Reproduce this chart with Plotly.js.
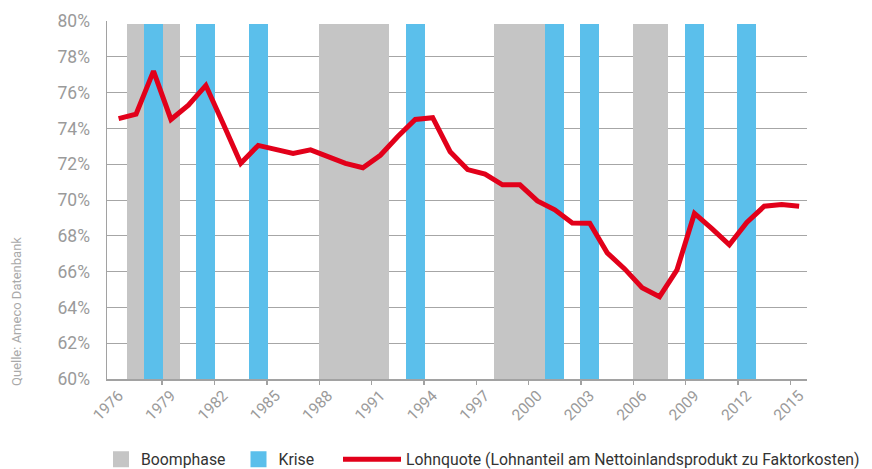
<!DOCTYPE html>
<html>
<head>
<meta charset="utf-8">
<script src="https://cdn.plot.ly/plotly-3.0.1.min.js"></script>
<style>html,body{margin:0;padding:0;background:#fff;}#chart{width:872px;height:469px;}</style>
</head>
<body>
<div id="chart"></div>
<script>
// ---- data ----
const years = [1976,1977,1978,1979,1980,1981,1982,1983,1984,1985,1986,1987,1988,1989,1990,1991,1992,1993,1994,1995,1996,1997,1998,1999,2000,2001,2002,2003,2004,2005,2006,2007,2008,2009,2010,2011,2012,2013,2014,2015];
const lohnquote = [74.55,74.8,77.2,74.5,75.3,76.4,74.25,72.05,73.05,72.8,72.6,72.8,72.45,72.05,71.8,72.5,73.55,74.5,74.6,72.7,71.7,71.45,70.85,70.85,69.95,69.45,68.72,68.7,67.05,66.15,65.1,64.6,66.1,69.25,68.4,67.5,68.75,69.65,69.75,69.65];
const boomYears = [1977,1979,1988,1989,1990,1991,1998,1999,2000,2006,2007];
const kriseYears = [1978,1981,1984,1993,2001,2003,2009,2012];
const xTickLabels = ["1976","1979","1982","1985","1988","1991","1994","1997","2000","2003","2006","2009","2012","2015"];
const yTickValues = [60,62,64,66,68,70,72,74,76,78,80];
const yTickLabels = ["60%","62%","64%","66%","68%","70%","72%","74%","76%","78%","80%"];
const phaseTop = 79.86;   // height of the shaded phase columns
const yMin = 60;

const FONT = "Roboto, 'Liberation Sans', sans-serif";
const GRAY = '#c5c5c5', BLUE = '#5bbfeb', RED = '#e2001a', AX = '#a2a2a2';

const labelVals = xTickLabels.map(Number);
const tickBounds = labelVals.slice(1).map(v => v - 0.5);

const traces = [
  {type:'bar', x: boomYears, y: boomYears.map(() => phaseTop - yMin), base: yMin, width: 1,
   marker:{color:GRAY}, showlegend:false, hoverinfo:'skip'},
  {type:'bar', x: kriseYears, y: kriseYears.map(() => phaseTop - yMin), base: yMin, width: 1.08,
   marker:{color:BLUE}, showlegend:false, hoverinfo:'skip'},
  {type:'scatter', mode:'lines', x: years, y: lohnquote, name:'Lohnquote (Lohnanteil am Nettoinlandsprodukt zu Faktorkosten)',
   line:{color:RED, width:5}, legend:'legend2'},
  {type:'scatter', mode:'markers', x:[null], y:[null], name:'Boomphase', xaxis:'x2', yaxis:'y2',
   marker:{symbol:'square', size:16, color:GRAY}, legend:'legend'},
  {type:'scatter', mode:'markers', x:[null], y:[null], name:'Krise', xaxis:'x2', yaxis:'y2',
   marker:{symbol:'square', size:16, color:BLUE}, legend:'legend'}
];

const xr = [1975.335, 2015.45];
const layout = {
  width:872, height:469,
  margin:{l:107, r:65, t:21, b:90, autoexpand:false},
  paper_bgcolor:'#fff', plot_bgcolor:'#fff',
  barmode:'overlay', bargap:0,
  xaxis:{range:xr, tickmode:'array', tickvals:labelVals, ticktext:xTickLabels, tickangle:-45,
    ticks:'', showline:true, linecolor:AX, linewidth:1.5, showgrid:false, zeroline:false,
    tickfont:{family:FONT, size:15.5, color:'#9a9a9a'}, fixedrange:true},
  xaxis2:{range:xr, overlaying:'x', anchor:'y2', side:'bottom', tickmode:'array', tickvals:tickBounds,
    ticks:'outside', ticklen:5, tickwidth:1.5, tickcolor:AX, showticklabels:false, showline:false,
    showgrid:false, zeroline:false, fixedrange:true},
  yaxis:{range:[60,80], tickmode:'array', tickvals:yTickValues, ticktext:yTickLabels, ticks:'',
    showline:true, linecolor:AX, linewidth:1.5, showgrid:false, zeroline:false, ticklabelstandoff:12,
    tickfont:{family:FONT, size:17.5, color:'#9a9a9a'}, fixedrange:true},
  yaxis2:{range:[60,80], overlaying:'y', anchor:'x2', side:'left', tickmode:'array',
    tickvals:yTickValues.slice(1, -1), showgrid:true, gridcolor:'#a6a6a6', gridwidth:1,
    showticklabels:false, showline:false, zeroline:false, ticks:'', fixedrange:true},
  legend:{orientation:'h', xref:'container', yref:'container', x:101/872, xanchor:'left',
    y:9.5/469, yanchor:'middle', entrywidth:92.5, entrywidthmode:'pixels', itemwidth:30,
    font:{family:FONT, size:15.8, color:'#333'}, bgcolor:'rgba(0,0,0,0)', traceorder:'normal'},
  legend2:{orientation:'h', xref:'container', yref:'container', x:338/872, xanchor:'left',
    y:9.5/469, yanchor:'middle', itemwidth:58,
    font:{family:FONT, size:15.8, color:'#333'}, bgcolor:'rgba(0,0,0,0)'},
  annotations:[{text:'Quelle: Ameco Datenbank', xref:'paper', yref:'paper', x:-0.1286, y:0.19,
    xanchor:'center', yanchor:'middle', textangle:-90, showarrow:false,
    font:{family:FONT, size:13, color:'#a9a9a9'}}]
};

Plotly.newPlot('chart', traces, layout, {displayModeBar:false, staticPlot:true});
</script>
</body>
</html>
